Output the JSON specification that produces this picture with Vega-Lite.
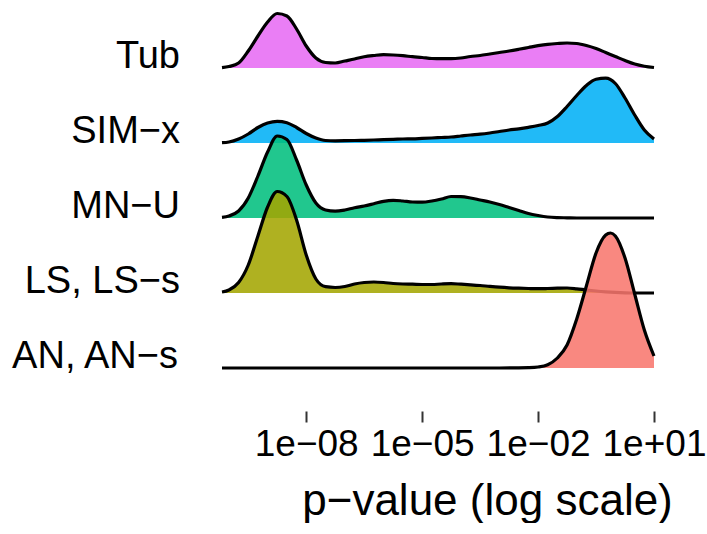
{
  "$schema": "https://vega.github.io/schema/vega-lite/v6.json",
  "padding": {"top": 7, "left": 12, "right": 0, "bottom": 0},
  "bounds": "flush",
  "config": {"font": "Liberation Sans", "view": {"stroke": null}},
  "data": {"values": [
    {"g":"Tub","p":6.61e-11,"d":0.003},{"g":"Tub","p":1e-10,"d":0.015},{"g":"Tub","p":1.778e-10,"d":0.05},{"g":"Tub","p":3.162e-10,"d":0.17},{"g":"Tub","p":5.623e-10,"d":0.32},
    {"g":"Tub","p":1e-9,"d":0.46},{"g":"Tub","p":1.778e-9,"d":0.545},{"g":"Tub","p":3.162e-9,"d":0.52},{"g":"Tub","p":5.623e-9,"d":0.39},
    {"g":"Tub","p":1e-8,"d":0.22},{"g":"Tub","p":1.778e-8,"d":0.1},{"g":"Tub","p":3.162e-8,"d":0.055},{"g":"Tub","p":5.623e-8,"d":0.05},
    {"g":"Tub","p":1e-7,"d":0.07},{"g":"Tub","p":1.778e-7,"d":0.09},{"g":"Tub","p":3.162e-7,"d":0.113},{"g":"Tub","p":5.623e-7,"d":0.125},
    {"g":"Tub","p":1e-6,"d":0.133},{"g":"Tub","p":1.778e-6,"d":0.13},{"g":"Tub","p":3.162e-6,"d":0.123},{"g":"Tub","p":5.623e-6,"d":0.113},
    {"g":"Tub","p":1e-5,"d":0.105},{"g":"Tub","p":1.778e-5,"d":0.095},{"g":"Tub","p":3.162e-5,"d":0.093},{"g":"Tub","p":5.623e-5,"d":0.093},
    {"g":"Tub","p":1e-4,"d":0.1},{"g":"Tub","p":1.778e-4,"d":0.115},{"g":"Tub","p":3.162e-4,"d":0.125},{"g":"Tub","p":5.623e-4,"d":0.14},
    {"g":"Tub","p":0.001,"d":0.155},{"g":"Tub","p":0.001778,"d":0.17},{"g":"Tub","p":0.003162,"d":0.187},{"g":"Tub","p":0.005623,"d":0.205},
    {"g":"Tub","p":0.01,"d":0.223},{"g":"Tub","p":0.01778,"d":0.237},{"g":"Tub","p":0.03162,"d":0.245},{"g":"Tub","p":0.05623,"d":0.25},
    {"g":"Tub","p":0.1,"d":0.245},{"g":"Tub","p":0.1778,"d":0.225},{"g":"Tub","p":0.3162,"d":0.195},{"g":"Tub","p":0.5623,"d":0.155},
    {"g":"Tub","p":1,"d":0.115},{"g":"Tub","p":1.778,"d":0.075},{"g":"Tub","p":3.162,"d":0.04},{"g":"Tub","p":5.623,"d":0.018},{"g":"Tub","p":10,"d":0.005},

    {"g":"SIM−x","p":6.61e-11,"d":0.003},{"g":"SIM−x","p":1e-10,"d":0.01},{"g":"SIM−x","p":1.778e-10,"d":0.04},{"g":"SIM−x","p":3.162e-10,"d":0.09},{"g":"SIM−x","p":5.623e-10,"d":0.155},
    {"g":"SIM−x","p":1e-9,"d":0.2},{"g":"SIM−x","p":1.778e-9,"d":0.217},{"g":"SIM−x","p":3.162e-9,"d":0.203},{"g":"SIM−x","p":5.623e-9,"d":0.155},
    {"g":"SIM−x","p":1e-8,"d":0.095},{"g":"SIM−x","p":1.778e-8,"d":0.05},{"g":"SIM−x","p":3.162e-8,"d":0.025},{"g":"SIM−x","p":5.623e-8,"d":0.022},
    {"g":"SIM−x","p":1e-7,"d":0.023},{"g":"SIM−x","p":1.778e-7,"d":0.025},{"g":"SIM−x","p":3.162e-7,"d":0.027},{"g":"SIM−x","p":5.623e-7,"d":0.03},
    {"g":"SIM−x","p":1e-6,"d":0.033},{"g":"SIM−x","p":1.778e-6,"d":0.036},{"g":"SIM−x","p":3.162e-6,"d":0.04},{"g":"SIM−x","p":5.623e-6,"d":0.042},
    {"g":"SIM−x","p":1e-5,"d":0.046},{"g":"SIM−x","p":1.778e-5,"d":0.05},{"g":"SIM−x","p":3.162e-5,"d":0.055},{"g":"SIM−x","p":5.623e-5,"d":0.06},
    {"g":"SIM−x","p":1e-4,"d":0.07},{"g":"SIM−x","p":1.778e-4,"d":0.08},{"g":"SIM−x","p":3.162e-4,"d":0.088},{"g":"SIM−x","p":5.623e-4,"d":0.1},
    {"g":"SIM−x","p":0.001,"d":0.115},{"g":"SIM−x","p":0.001778,"d":0.13},{"g":"SIM−x","p":0.003162,"d":0.142},{"g":"SIM−x","p":0.005623,"d":0.157},
    {"g":"SIM−x","p":0.01,"d":0.175},{"g":"SIM−x","p":0.01778,"d":0.2},{"g":"SIM−x","p":0.03162,"d":0.265},{"g":"SIM−x","p":0.05623,"d":0.365},
    {"g":"SIM−x","p":0.1,"d":0.475},{"g":"SIM−x","p":0.1778,"d":0.575},{"g":"SIM−x","p":0.3162,"d":0.638},{"g":"SIM−x","p":0.5623,"d":0.648},
    {"g":"SIM−x","p":1,"d":0.595},{"g":"SIM−x","p":1.778,"d":0.45},{"g":"SIM−x","p":3.162,"d":0.28},{"g":"SIM−x","p":5.623,"d":0.13},{"g":"SIM−x","p":10,"d":0.04},

    {"g":"MN−U","p":6.61e-11,"d":0.007},{"g":"MN−U","p":1e-10,"d":0.02},{"g":"MN−U","p":1.778e-10,"d":0.07},{"g":"MN−U","p":3.162e-10,"d":0.2},{"g":"MN−U","p":5.623e-10,"d":0.42},
    {"g":"MN−U","p":1e-9,"d":0.66},{"g":"MN−U","p":1.778e-9,"d":0.82},{"g":"MN−U","p":3.162e-9,"d":0.785},{"g":"MN−U","p":5.623e-9,"d":0.58},
    {"g":"MN−U","p":1e-8,"d":0.33},{"g":"MN−U","p":1.778e-8,"d":0.15},{"g":"MN−U","p":3.162e-8,"d":0.08},{"g":"MN−U","p":5.623e-8,"d":0.068},
    {"g":"MN−U","p":1e-7,"d":0.08},{"g":"MN−U","p":1.778e-7,"d":0.103},{"g":"MN−U","p":3.162e-7,"d":0.12},{"g":"MN−U","p":5.623e-7,"d":0.143},
    {"g":"MN−U","p":1e-6,"d":0.167},{"g":"MN−U","p":1.778e-6,"d":0.177},{"g":"MN−U","p":3.162e-6,"d":0.17},{"g":"MN−U","p":5.623e-6,"d":0.16},
    {"g":"MN−U","p":1e-5,"d":0.158},{"g":"MN−U","p":1.778e-5,"d":0.17},{"g":"MN−U","p":3.162e-5,"d":0.19},{"g":"MN−U","p":5.623e-5,"d":0.215},
    {"g":"MN−U","p":1e-4,"d":0.213},{"g":"MN−U","p":1.778e-4,"d":0.2},{"g":"MN−U","p":3.162e-4,"d":0.18},{"g":"MN−U","p":5.623e-4,"d":0.16},
    {"g":"MN−U","p":0.001,"d":0.135},{"g":"MN−U","p":0.001778,"d":0.105},{"g":"MN−U","p":0.003162,"d":0.075},{"g":"MN−U","p":0.005623,"d":0.045},
    {"g":"MN−U","p":0.01,"d":0.025},{"g":"MN−U","p":0.01778,"d":0.01},{"g":"MN−U","p":0.03162,"d":0.004},{"g":"MN−U","p":0.05623,"d":0.002},
    {"g":"MN−U","p":0.1,"d":0},{"g":"MN−U","p":0.3162,"d":0},{"g":"MN−U","p":1,"d":0},{"g":"MN−U","p":3.162,"d":0},{"g":"MN−U","p":10,"d":0},

    {"g":"LS, LS−s","p":6.61e-11,"d":0.01},{"g":"LS, LS−s","p":1e-10,"d":0.03},{"g":"LS, LS−s","p":1.778e-10,"d":0.105},{"g":"LS, LS−s","p":3.162e-10,"d":0.28},{"g":"LS, LS−s","p":5.623e-10,"d":0.57},
    {"g":"LS, LS−s","p":1e-9,"d":0.86},{"g":"LS, LS−s","p":1.778e-9,"d":1.015},{"g":"LS, LS−s","p":3.162e-9,"d":0.965},{"g":"LS, LS−s","p":5.623e-9,"d":0.73},
    {"g":"LS, LS−s","p":1e-8,"d":0.38},{"g":"LS, LS−s","p":1.778e-8,"d":0.14},{"g":"LS, LS−s","p":3.162e-8,"d":0.063},{"g":"LS, LS−s","p":5.623e-8,"d":0.055},
    {"g":"LS, LS−s","p":1e-7,"d":0.065},{"g":"LS, LS−s","p":1.778e-7,"d":0.09},{"g":"LS, LS−s","p":3.162e-7,"d":0.105},{"g":"LS, LS−s","p":5.623e-7,"d":0.11},
    {"g":"LS, LS−s","p":1e-6,"d":0.105},{"g":"LS, LS−s","p":1.778e-6,"d":0.095},{"g":"LS, LS−s","p":3.162e-6,"d":0.09},{"g":"LS, LS−s","p":5.623e-6,"d":0.088},
    {"g":"LS, LS−s","p":1e-5,"d":0.085},{"g":"LS, LS−s","p":1.778e-5,"d":0.085},{"g":"LS, LS−s","p":3.162e-5,"d":0.09},{"g":"LS, LS−s","p":5.623e-5,"d":0.093},
    {"g":"LS, LS−s","p":1e-4,"d":0.088},{"g":"LS, LS−s","p":1.778e-4,"d":0.082},{"g":"LS, LS−s","p":3.162e-4,"d":0.075},{"g":"LS, LS−s","p":5.623e-4,"d":0.066},
    {"g":"LS, LS−s","p":0.001,"d":0.058},{"g":"LS, LS−s","p":0.001778,"d":0.052},{"g":"LS, LS−s","p":0.003162,"d":0.048},{"g":"LS, LS−s","p":0.005623,"d":0.045},
    {"g":"LS, LS−s","p":0.01,"d":0.043},{"g":"LS, LS−s","p":0.01778,"d":0.045},{"g":"LS, LS−s","p":0.03162,"d":0.048},{"g":"LS, LS−s","p":0.05623,"d":0.05},
    {"g":"LS, LS−s","p":0.1,"d":0.042},{"g":"LS, LS−s","p":0.1778,"d":0.03},{"g":"LS, LS−s","p":0.3162,"d":0.02},{"g":"LS, LS−s","p":0.5623,"d":0.012},
    {"g":"LS, LS−s","p":1,"d":0.006},{"g":"LS, LS−s","p":1.778,"d":0.002},{"g":"LS, LS−s","p":3.162,"d":0},{"g":"LS, LS−s","p":5.623,"d":0},{"g":"LS, LS−s","p":10,"d":0},

    {"g":"AN, AN−s","p":6.61e-11,"d":0},{"g":"AN, AN−s","p":1e-8,"d":0},{"g":"AN, AN−s","p":1e-6,"d":0},{"g":"AN, AN−s","p":1e-4,"d":0},
    {"g":"AN, AN−s","p":0.001,"d":0},{"g":"AN, AN−s","p":0.003162,"d":0.001},{"g":"AN, AN−s","p":0.005623,"d":0.003},
    {"g":"AN, AN−s","p":0.01,"d":0.01},{"g":"AN, AN−s","p":0.01778,"d":0.033},{"g":"AN, AN−s","p":0.03162,"d":0.1},{"g":"AN, AN−s","p":0.05623,"d":0.23},
    {"g":"AN, AN−s","p":0.1,"d":0.49},{"g":"AN, AN−s","p":0.1778,"d":0.82},{"g":"AN, AN−s","p":0.3162,"d":1.15},{"g":"AN, AN−s","p":0.5623,"d":1.33},
    {"g":"AN, AN−s","p":0.75,"d":1.35},
    {"g":"AN, AN−s","p":1,"d":1.32},{"g":"AN, AN−s","p":1.778,"d":1.1},{"g":"AN, AN−s","p":3.162,"d":0.74},{"g":"AN, AN−s","p":5.623,"d":0.38},{"g":"AN, AN−s","p":10,"d":0.12}
  ]},
  "spacing": {"row": 19},
  "facet": {
    "row": {
      "field": "g", "type": "nominal",
      "sort": ["Tub", "SIM−x", "MN−U", "LS, LS−s", "AN, AN−s"],
      "title": null,
      "header": {
        "labelAngle": 0, "labelAlign": "left", "labelAnchor": "start", "labelBaseline": "alphabetic",
        "labelFontSize": 38, "labelColor": "black", "labelPadding": 42, "labelFont": "Liberation Sans"
      }
    }
  },
  "spec": {
    "width": 432,
    "height": 56,
    "encoding": {
      "x": {
        "field": "p", "type": "quantitative",
        "scale": {"type": "log", "domain": [6.61e-11, 10], "nice": false},
        "axis": {
          "values": [1e-8, 1e-5, 0.01, 10],
          "labelExpr": "'1e' + (datum.value < 1 ? '−' : '+') + (abs(round(log(datum.value)/LN10)) < 10 ? '0' : '') + abs(round(log(datum.value)/LN10))",
          "domain": false, "grid": false, "offset": 43,
          "tickSize": 11, "tickWidth": 2, "tickColor": "#333333",
          "labelFontSize": 37, "labelColor": "black", "labelPadding": 4,
          "labelFlush": false, "labelOverlap": false,
          "title": "p−value (log scale)", "titleFontSize": 44, "titleFontWeight": "normal", "titleColor": "black",
          "titleX": 265, "titleY": 103, "titleBaseline": "alphabetic", "titleAlign": "center"
        }
      },
      "y": {
        "field": "d", "type": "quantitative",
        "scale": {"domain": [0, 1], "range": [56, -44], "nice": false, "zero": true},
        "axis": null
      }
    },
    "layer": [
      {
        "mark": {"type": "area", "interpolate": "monotone", "fillOpacity": 0.87},
        "encoding": {
          "color": {
            "field": "g", "type": "nominal", "legend": null,
            "scale": {"domain": ["AN, AN−s", "LS, LS−s", "MN−U", "SIM−x", "Tub"], "range": ["#F8766D", "#A3A500", "#00BF7D", "#00B0F6", "#E76BF3"]}
          }
        }
      },
      {
        "mark": {"type": "line", "interpolate": "monotone", "color": "black", "strokeWidth": 3.2},
        "encoding": {}
      }
    ]
  }
}
